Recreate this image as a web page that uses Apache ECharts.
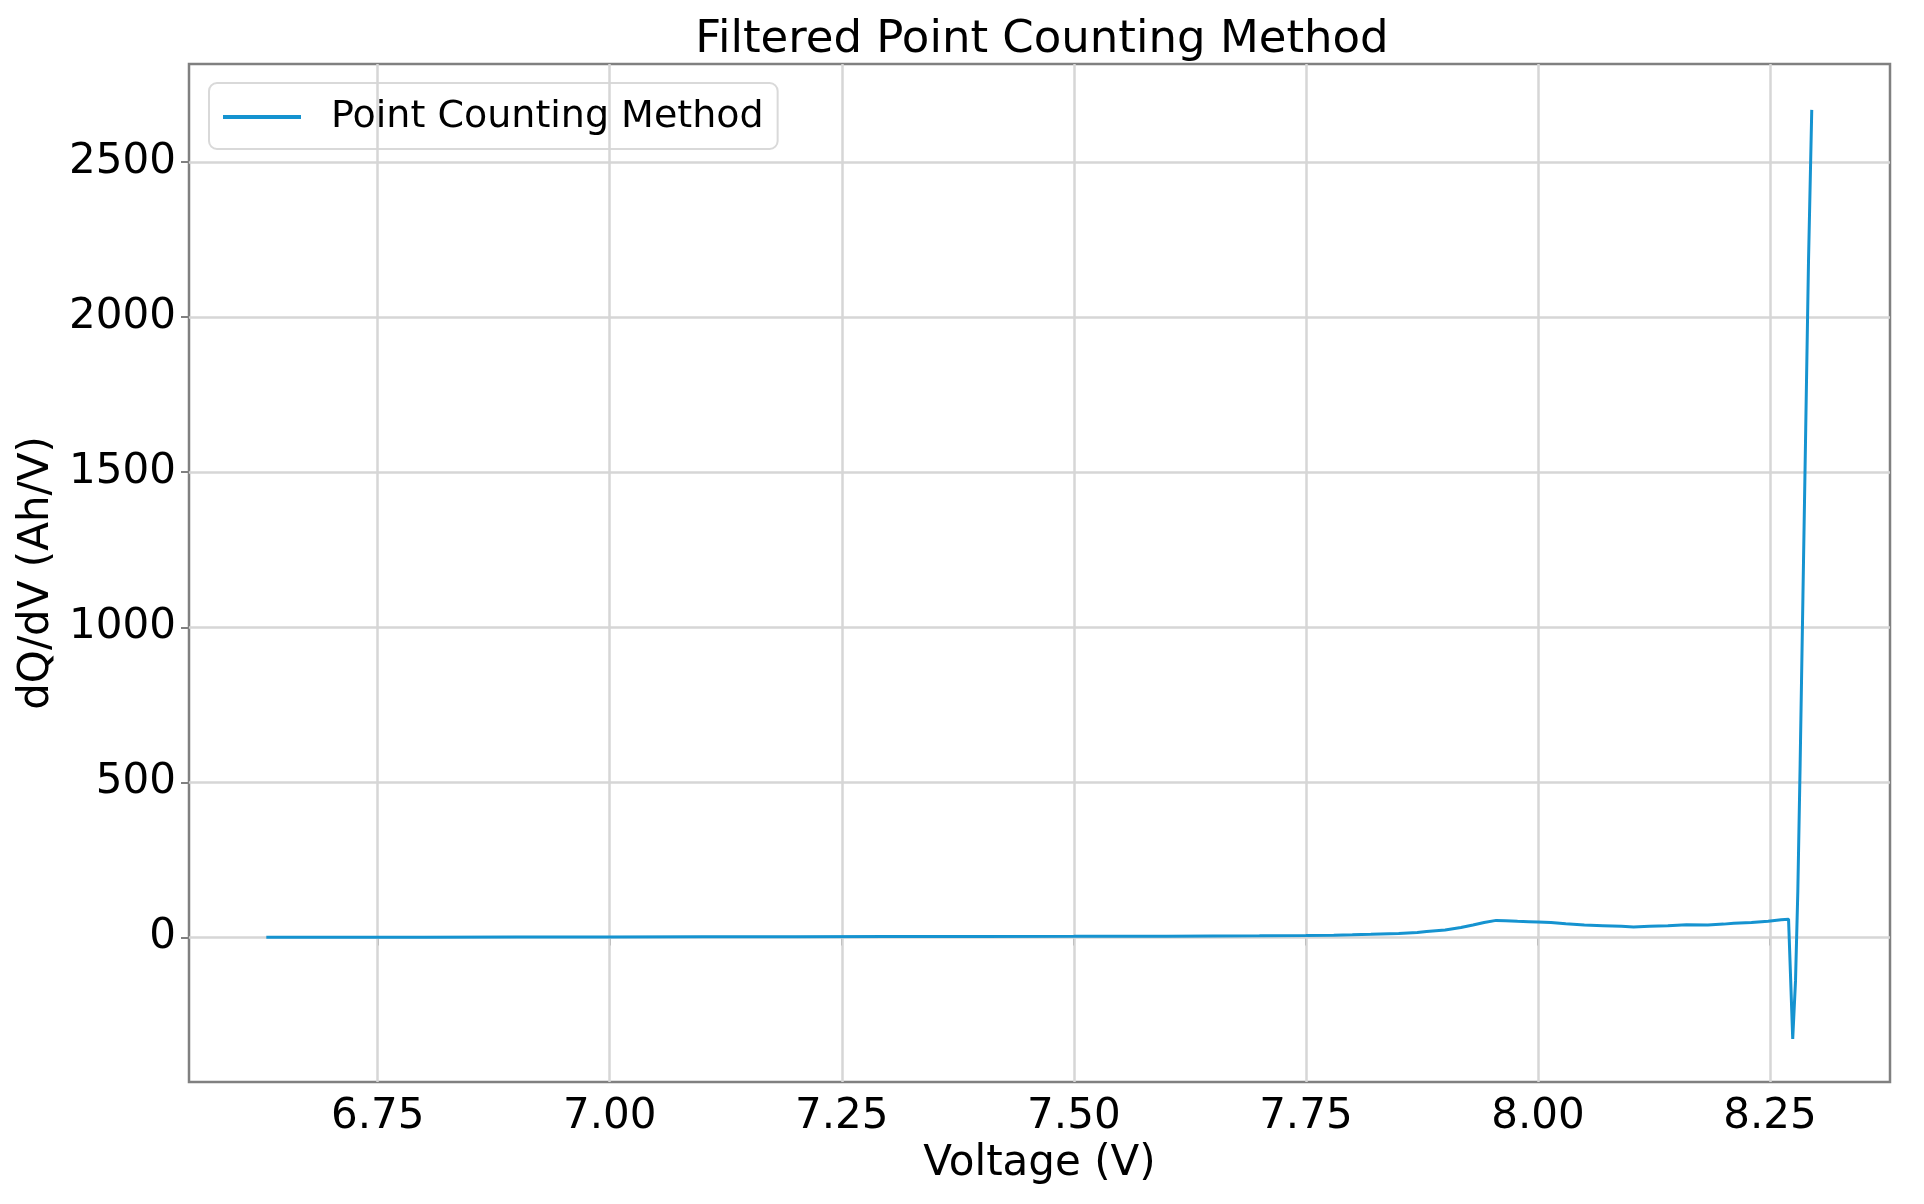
<!DOCTYPE html>
<html>
<head>
<meta charset="utf-8">
<script src="https://cdn.jsdelivr.net/npm/echarts@6/dist/echarts.min.js"></script>
<style>
html,body{margin:0;padding:0;background:#fff;}
#chart{width:1924px;height:1204px;}
</style>
</head>
<body>
<div id="chart"></div>
<script>
const seriesName = 'Point Counting Method';
const voltage = [6.630, 6.70, 6.80, 6.90, 7.00, 7.10, 7.20, 7.30, 7.40, 7.50, 7.60, 7.65, 7.70, 7.75, 7.78, 7.80, 7.82, 7.85, 7.87, 7.88, 7.90, 7.917, 7.93, 7.942, 7.955, 7.965, 7.978, 7.99, 8.00, 8.014, 8.03, 8.05, 8.07, 8.09, 8.103, 8.12, 8.14, 8.16, 8.183, 8.20, 8.211, 8.23, 8.248, 8.262, 8.270, 8.2745, 8.2775, 8.2800, 8.2825, 8.2855, 8.2885, 8.2915, 8.2950];
const dqdv = [0.5, 0.8, 1.0, 1.3, 1.6, 2.0, 2.3, 2.7, 3.0, 3.5, 4.2, 4.8, 5.5, 6.5, 7.5, 8.5, 10, 13, 16, 19, 24, 32, 40, 48, 55, 54, 52, 51, 50, 48, 44, 40, 38, 36, 34, 36, 38, 41, 40, 43, 46, 48, 52, 57, 59, -327, -140, 150, 560, 1100, 1640, 2180, 2668];
const xTicks = [6.75, 7.00, 7.25, 7.50, 7.75, 8.00, 8.25];
const yTicks = [0, 500, 1000, 1500, 2000, 2500];
const xRange = [6.5467, 8.3793];
const yRange = [-466, 2816];

const font = 'DejaVu Sans';
const gridColor = '#d6d6d6';
const spineColor = '#808080';

const chart = echarts.init(document.getElementById('chart'), null, {renderer: 'canvas'});
const option = {
  backgroundColor: '#ffffff',
  animation: false,
  title: {
    text: 'Filtered Point Counting Method',
    left: 1037, textAlign: 'center', top: 13,
    textStyle: {fontFamily: font, fontSize: 45, fontWeight: 'normal', color: '#000'}
  },
  legend: {
    left: 209, top: 83,
    data: [seriesName],
    icon: 'rect', itemWidth: 78, itemHeight: 4,
    padding: [15, 14, 13, 14],
    backgroundColor: '#fff',
    borderColor: '#d9d9d9', borderWidth: 2, borderRadius: 8,
    textStyle: {fontFamily: font, fontSize: 38, color: '#000', padding: [0, 0, 0, 25]}
  },
  grid: {
    left: 189, right: 34, top: 64, bottom: 122,
    show: true, borderColor: spineColor, borderWidth: 2.5, backgroundColor: 'transparent'
  },
  xAxis: {
    type: 'value', min: xRange[0], max: xRange[1],
    name: 'Voltage (V)', nameLocation: 'middle', nameGap: 60,
    nameTextStyle: {fontFamily: font, fontSize: 42, color: '#000'},
    axisLine: {show: false},
    axisTick: {show: true, customValues: xTicks, length: 8, lineStyle: {color: spineColor, width: 2}},
    axisLabel: {customValues: xTicks, margin: 14, fontFamily: font, fontSize: 42, color: '#000',
      formatter: v => v.toFixed(2)},
    splitLine: {show: false}
  },
  yAxis: {
    type: 'value', min: yRange[0], max: yRange[1],
    name: 'dQ/dV (Ah/V)', nameLocation: 'middle', nameGap: 127,
    nameTextStyle: {fontFamily: font, fontSize: 42, color: '#000'},
    axisLine: {show: false},
    axisTick: {show: true, customValues: yTicks, length: 8, lineStyle: {color: spineColor, width: 2}},
    axisLabel: {customValues: yTicks, margin: 13, fontFamily: font, fontSize: 42, color: '#000',
      formatter: v => String(v)},
    splitLine: {show: false}
  },
  series: [
    {
      name: 'grid', type: 'line', data: [], z: 1, silent: true,
      markLine: {
        silent: true, symbol: 'none', label: {show: false}, animation: false,
        lineStyle: {color: gridColor, width: 2.5, type: 'solid'},
        data: xTicks.map(v => ({xAxis: v})).concat(yTicks.map(v => ({yAxis: v})))
      }
    },
    {
      name: seriesName, type: 'line', z: 5,
      data: voltage.map((v, i) => [v, dqdv[i]]),
      showSymbol: false, symbol: 'none',
      lineStyle: {color: '#1593d0', width: 3},
      itemStyle: {color: '#1593d0'}
    }
  ]
};
chart.setOption(option);
</script>
</body>
</html>
